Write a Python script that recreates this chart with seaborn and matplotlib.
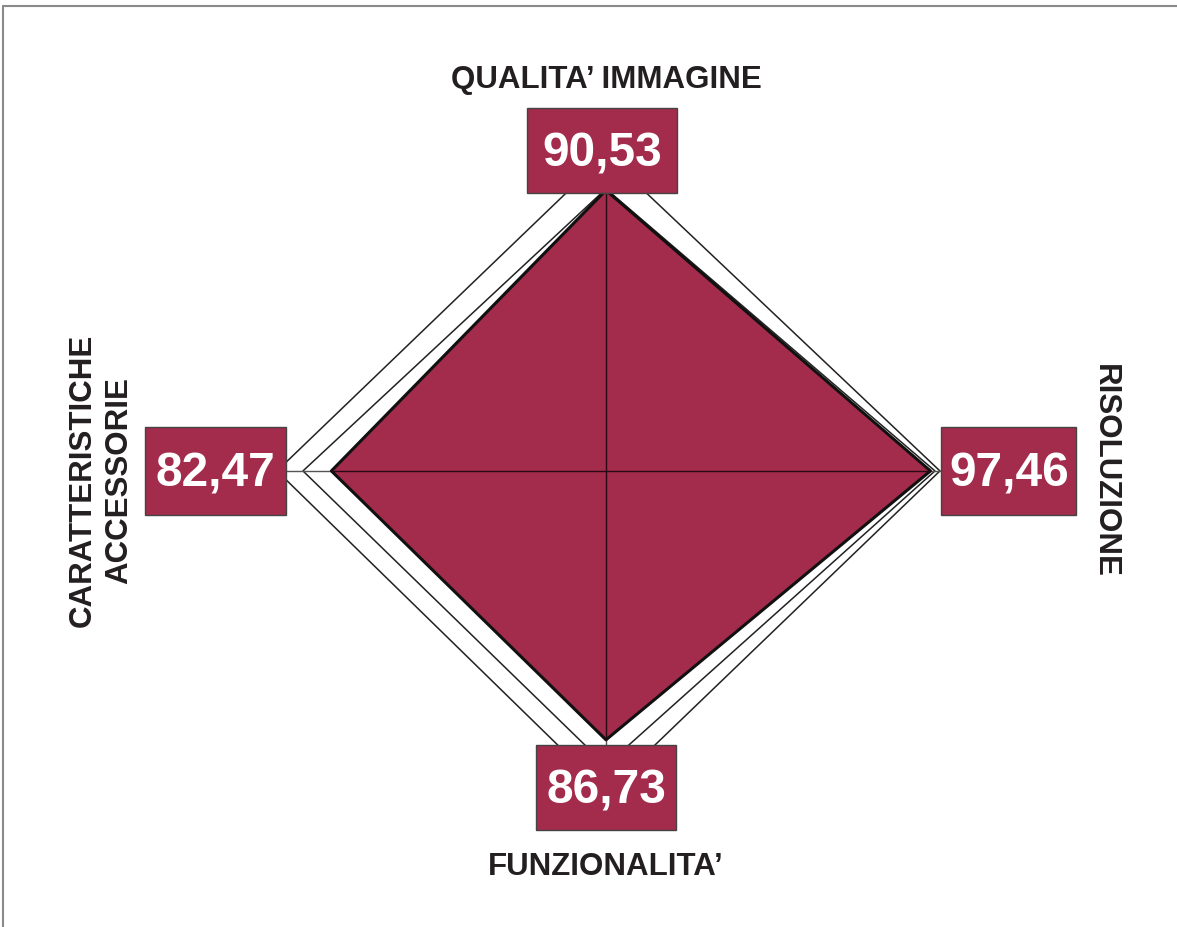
import numpy as np
import pandas as pd
import seaborn as sns
import matplotlib.pyplot as plt
from matplotlib.patches import Rectangle
from matplotlib.lines import Line2D

# Data (clockwise from top)
categories = ["QUALITA\u2019 IMMAGINE", "RISOLUZIONE", "FUNZIONALITA\u2019",
              "CARATTERISTICHE\nACCESSORIE"]
values = [90.53, 97.46, 86.73, 82.47]
value_labels = ["90,53", "97,46", "86,73", "82,47"]
# two white reference polygons behind the score
ref_inner = [91.0, 98.8, 95.0, 91.0]
ref_outer = [102.0, 100.3, 103.6, 98.8]

angles = np.deg2rad([90, 0, -90, 180])
wine = "#A32B4B"


def to_xy(vals):
    x = np.round(np.cos(angles) * np.array(vals), 6)
    y = np.round(np.sin(angles) * np.array(vals), 6)
    return np.append(x, x[0]), np.append(y, y[0])


sns.set_theme(style="white")
plt.rcParams["font.family"] = ["Liberation Sans", "DejaVu Sans"]

fig = plt.figure(figsize=(11.77, 9.27), dpi=100)
ax = fig.add_axes([0, 0, 1, 1])
ax.set_xlim(-182.0, 171.5)
ax.set_ylim(-147.1, 151.9)
ax.axis("off")

# reference polygons (white fill, thin outline)
for vals in [ref_outer, ref_inner]:
    x, y = to_xy(vals)
    ax.fill(x, y, color="white", zorder=1)
    sns.lineplot(x=x, y=y, sort=False, estimator=None, color="#222222",
                 linewidth=1.1, ax=ax, zorder=2)

# spokes
for a, r in zip(angles, ref_outer):
    ax.plot([0, np.cos(a) * r], [0, np.sin(a) * r], color="#555555",
            linewidth=1.0, zorder=2.5)

# score polygon
x, y = to_xy(values)
ax.fill(x, y, color=wine, zorder=3)
sns.lineplot(x=x, y=y, sort=False, estimator=None, color="#111111",
             linewidth=2.2, ax=ax, zorder=4)
for a, r in zip(angles, values):
    ax.plot([0, np.cos(a) * r], [0, np.sin(a) * r], color="#2a0a14",
            linewidth=1.0, zorder=4.5)

# value boxes: distance from centre along each spoke, and size
box_dist = [103.4, 121.0, 102.1, 117.3]
box_size = [(45, 27.4), (40.5, 28.4), (42, 27.4), (42.3, 28.1)]
for a, d, lab, (w, h) in zip(angles, box_dist, value_labels, box_size):
    cx = np.cos(a) * d - (1.2 if a == angles[0] else 0)
    cy = np.sin(a) * d
    ax.add_patch(Rectangle((cx - w / 2, cy - h / 2), w, h, facecolor=wine,
                           edgecolor="#444444", linewidth=1.0, zorder=6))
    ax.text(cx, cy - 1.1, lab, color="white", fontsize=34.5,
            fontweight="bold", ha="center", va="center", zorder=7)

# category labels
lab_dist = [126.0, 149.9, 127.6, 151.6]
lab_shift = [0, 0, 0, -3.0]
rotations = [0, -90, 0, 90]
for a, d, s, cat, rot in zip(angles, lab_dist, lab_shift, categories, rotations):
    ax.text(np.cos(a) * d, np.sin(a) * d + s, cat, rotation=rot,
            color="#231F20", fontsize=22.5, fontweight="bold", ha="center",
            va="center", linespacing=1.28, zorder=7)

# page frame (top and left edges)
fig.add_artist(Line2D([0.0025, 1], [0.9935, 0.9935], color="#8a8a8a",
                      linewidth=1.5, transform=fig.transFigure))
fig.add_artist(Line2D([0.0025, 0.0025], [0, 0.9935], color="#8a8a8a",
                      linewidth=1.5, transform=fig.transFigure))

fig.savefig("out.png", dpi=100)
